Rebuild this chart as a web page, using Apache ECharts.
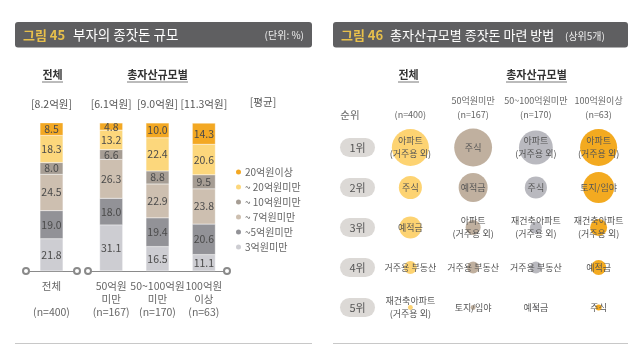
<!DOCTYPE html>
<html>
<head>
<meta charset="utf-8">
<script src="https://cdn.jsdelivr.net/npm/echarts@6/dist/echarts.min.js"></script>
<style>
html, body { margin: 0; padding: 0; background: #fff; }
#main { width: 640px; height: 352px; }
</style>
</head>
<body>
<div id="main"></div>
<script>
var FONT = '"Noto Sans CJK KR", "Noto Sans", sans-serif';

// 그림 45 부자의 종잣돈 규모 (단위: %)
var totalCat = ['전체\n\n(n=400)'];
var groupCat = ['50억원\n미만\n(n=167)', '50~100억원\n미만\n(n=170)', '100억원\n이상\n(n=63)'];
var totalAvg = ['[8.2억원]'];
var groupAvg = ['[6.1억원]', '[9.0억원]', '[11.3억원]'];
var bandNames = ['3억원미만', '~5억원미만', '~ 7억원미만', '~ 10억원미만', '~ 20억원미만', '20억원이상'];
// 값 순서: 전체, 50억원미만, 50~100억원미만, 100억원이상
var band3 = [21.8, 31.1, 16.5, 11.1];
var band5 = [19.0, 18.0, 19.4, 20.6];
var band7 = [24.5, 26.3, 22.9, 23.8];
var band10 = [8.0, 6.6, 8.8, 9.5];
var band20 = [18.3, 13.2, 22.4, 20.6];
var band20up = [8.5, 4.8, 10.0, 14.3];
var bandValues = [band3, band5, band7, band10, band20, band20up];
var bandColors = ['#cdcdd2', '#929297', '#cdbfb0', '#a69d94', '#fcd77c', '#f3a823'];

// 그림 46 총자산규모별 종잣돈 마련 방법 (상위5개)
var methodCols = ['(n=400)', '50억원미만\n(n=167)', '50~100억원미만\n(n=170)', '100억원이상\n(n=63)'];
var ranks = ['1위', '2위', '3위', '4위', '5위'];
var methodAll = ['아파트(거주용 외)', '주식', '예적금', '거주용 부동산', '재건축아파트(거주용 외)'];
var methodLt50 = ['주식', '예적금', '아파트(거주용 외)', '거주용 부동산', '토지/임야'];
var methodMid = ['아파트(거주용 외)', '주식', '재건축아파트(거주용 외)', '거주용 부동산', '예적금'];
var methodGt100 = ['아파트(거주용 외)', '토지/임야', '재건축아파트(거주용 외)', '예적금', '주식'];
// 응답 비율 추정치 (%)
var shareAll = [33.5, 13.0, 12.0, 4.0, 0.6];
var shareLt50 = [35.0, 20.5, 5.5, 3.5, 0.6];
var shareMid = [28.0, 12.0, 3.5, 3.5, 0.3];
var shareGt100 = [33.5, 23.5, 7.0, 5.5, 0.9];
var methodColors = ['#fdd372', '#c0b09f', '#b9b9bf', '#f3aa20'];

var myChart = echarts.init(document.getElementById('main'));

var series = [];
bandNames.forEach(function (name, i) {
  var common = {
    name: name,
    type: 'bar',
    barWidth: 23,
    itemStyle: { color: bandColors[i], borderColor: '#fff', borderWidth: 0.3 },
    label: {
      show: true,
      position: 'inside',
      color: '#4a4a4a',
      fontSize: 10.5,
      fontFamily: FONT,
      formatter: function (p) { return p.value.toFixed(1); }
    }
  };
  series.push(Object.assign({}, common, {
    xAxisIndex: 0, yAxisIndex: 0, stack: 'all',
    data: [bandValues[i][0]]
  }));
  series.push(Object.assign({}, common, {
    xAxisIndex: 1, yAxisIndex: 1, stack: 'group',
    data: bandValues[i].slice(1)
  }));
});

var methodList = [methodAll, methodLt50, methodMid, methodGt100];
var shareList = [shareAll, shareLt50, shareMid, shareGt100];
methodList.forEach(function (methods, c) {
  series.push({
    name: 'col' + c,
    type: 'scatter',
    xAxisIndex: 2,
    yAxisIndex: 2,
    symbolSize: function (val) { return Math.sqrt(val[2]) * 6.4; },
    itemStyle: { color: methodColors[c], opacity: 1 },
    label: {
      show: true,
      position: 'inside',
      color: '#555',
      fontSize: 9,
      lineHeight: 13,
      fontFamily: FONT,
      formatter: function (p) { return p.name.replace('(', '\n('); }
    },
    data: methods.map(function (m, r) {
      return { name: m, value: [c, r, shareList[c][r]] };
    })
  });
});

var bottomLabel = {
  color: '#666', fontSize: 10.5, lineHeight: 13, fontFamily: FONT, margin: 9, interval: 0
};
var topLabel = {
  color: '#555', fontSize: 10.5, fontFamily: FONT, margin: 14, interval: 0
};
var axisLine = {
  show: true,
  symbol: ['emptyCircle', 'emptyCircle'],
  symbolSize: [6, 6],
  lineStyle: { color: '#8a8a8a', width: 1 }
};

var option = {
  backgroundColor: '#fff',
  textStyle: { fontFamily: FONT },
  animation: false,
  legend: {
    orient: 'vertical',
    left: 229,
    top: 162,
    icon: 'circle',
    itemWidth: 7,
    itemHeight: 7,
    itemGap: 5,
    data: bandNames.slice().reverse(),
    textStyle: { color: '#666', fontSize: 10, fontFamily: FONT, padding: [0, 0, 0, -2] }
  },
  grid: [
    { left: 26, width: 51, top: 123, height: 148 },
    { left: 88, width: 139, top: 123, height: 148 },
    { left: 379, width: 251, top: 127.5, height: 200 }
  ],
  xAxis: [
    { type: 'category', gridIndex: 0, data: totalCat, axisLine: axisLine, axisTick: { show: false }, axisLabel: bottomLabel },
    { type: 'category', gridIndex: 1, data: groupCat, axisLine: axisLine, axisTick: { show: false }, axisLabel: bottomLabel },
    { type: 'category', gridIndex: 2, position: 'top', data: methodCols,
      axisLine: { show: false }, axisTick: { show: false }, splitLine: { show: false },
      axisLabel: { color: '#666', fontSize: 9, lineHeight: 14, fontFamily: FONT, margin: 6, interval: 0 } },
    { type: 'category', gridIndex: 0, position: 'top', data: totalAvg,
      axisLine: { show: false }, axisTick: { show: false }, axisLabel: topLabel },
    { type: 'category', gridIndex: 1, position: 'top', data: groupAvg,
      axisLine: { show: false }, axisTick: { show: false }, axisLabel: topLabel }
  ],
  yAxis: [
    { type: 'value', gridIndex: 0, min: 0, max: 100, show: false },
    { type: 'value', gridIndex: 1, min: 0, max: 100, show: false },
    { type: 'category', gridIndex: 2, data: ranks, inverse: true,
      axisLine: { show: false }, axisTick: { show: false }, splitLine: { show: false },
      axisLabel: {
        margin: 4,
        formatter: function (v) { return '{p|' + v + '}'; },
        rich: {
          p: {
            backgroundColor: '#dcd9d6', borderRadius: 9.5, width: 35, height: 19,
            lineHeight: 19, align: 'center', color: '#555', fontSize: 11, fontFamily: FONT
          }
        }
      } }
  ],
  graphic: [
    { type: 'rect', shape: { x: 15, y: 22, width: 297, height: 25.5, r: 3 }, style: { fill: '#5f5f61' } },
    { type: 'text', x: 23, y: 35, style: { text: '그림 45', fill: '#e8c04b', font: 'bold 13px ' + FONT, verticalAlign: 'middle' } },
    { type: 'text', x: 73, y: 35, style: { text: '부자의 종잣돈 규모', fill: '#fff', font: '13.5px ' + FONT, verticalAlign: 'middle' } },
    { type: 'text', x: 304, y: 35, style: { text: '(단위: %)', fill: '#eee', font: '10px ' + FONT, align: 'right', verticalAlign: 'middle' } },
    { type: 'rect', shape: { x: 333, y: 22, width: 295, height: 25.5, r: 3 }, style: { fill: '#5f5f61' } },
    { type: 'text', x: 341, y: 35, style: { text: '그림 46', fill: '#e8c04b', font: 'bold 13px ' + FONT, verticalAlign: 'middle' } },
    { type: 'text', x: 390, y: 35, style: { text: '총자산규모별 종잣돈 마련 방법', fill: '#fff', font: '13px ' + FONT, verticalAlign: 'middle' } },
    { type: 'text', x: 565, y: 36, style: { text: '(상위5개)', fill: '#eee', font: '10px ' + FONT, verticalAlign: 'middle' } },

    { type: 'text', x: 52.5, y: 75, style: { text: '전체', fill: '#333', font: 'bold 11px ' + FONT, align: 'center', verticalAlign: 'middle' } },
    { type: 'line', shape: { x1: 42, y1: 82, x2: 63, y2: 82 }, style: { stroke: '#555', lineWidth: 0.8 } },
    { type: 'text', x: 157.5, y: 75, style: { text: '총자산규모별', fill: '#333', font: 'bold 11px ' + FONT, align: 'center', verticalAlign: 'middle' } },
    { type: 'line', shape: { x1: 127, y1: 82, x2: 188, y2: 82 }, style: { stroke: '#555', lineWidth: 0.8 } },
    { type: 'text', x: 263, y: 102, style: { text: '[평균]', fill: '#555', font: '10.5px ' + FONT, align: 'center', verticalAlign: 'middle' } },
    { type: 'line', shape: { x1: 15, y1: 343.5, x2: 312, y2: 343.5 }, style: { stroke: '#c8c8c8', lineWidth: 1 } },

    { type: 'text', x: 408.5, y: 75, style: { text: '전체', fill: '#333', font: 'bold 11px ' + FONT, align: 'center', verticalAlign: 'middle' } },
    { type: 'line', shape: { x1: 398, y1: 82, x2: 419, y2: 82 }, style: { stroke: '#555', lineWidth: 0.8 } },
    { type: 'text', x: 536.5, y: 75, style: { text: '총자산규모별', fill: '#333', font: 'bold 11px ' + FONT, align: 'center', verticalAlign: 'middle' } },
    { type: 'line', shape: { x1: 506, y1: 82, x2: 567, y2: 82 }, style: { stroke: '#555', lineWidth: 0.8 } },
    { type: 'text', x: 350, y: 115, style: { text: '순위', fill: '#666', font: '10.5px ' + FONT, align: 'center', verticalAlign: 'middle' } },
    { type: 'line', shape: { x1: 333, y1: 343.5, x2: 628, y2: 343.5 }, style: { stroke: '#c8c8c8', lineWidth: 1 } }
  ],
  series: series
};

myChart.setOption(option);
window.addEventListener('resize', function () {
  myChart.resize();
});
</script>
</body>
</html>
